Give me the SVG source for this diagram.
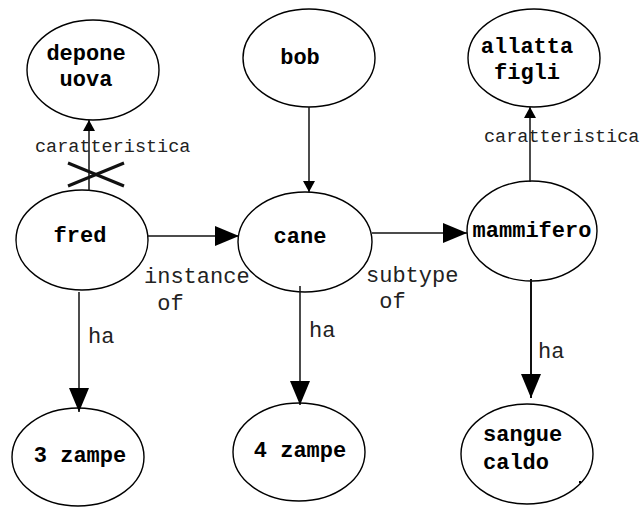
<svg xmlns="http://www.w3.org/2000/svg" width="641" height="507" viewBox="0 0 641 507">
<style>
.node ellipse{fill:#fff;stroke:#000;stroke-width:1.4}
.nl{font-family:"Liberation Mono","Courier New",monospace;font-weight:bold;font-size:22px;fill:#000}
.el{font-family:"Liberation Mono","Courier New",monospace;font-size:22px;fill:#222}
.els{font-family:"Liberation Mono","Courier New",monospace;font-size:18.5px;fill:#222}
.c line{stroke:#111;stroke-width:1.5}
</style>
<defs>
<marker id="sm" markerUnits="userSpaceOnUse" markerWidth="11" markerHeight="12" refX="11" refY="6" orient="auto"><path d="M0,0 L11,6 L0,12 z" fill="#000"/></marker>
<marker id="lg" markerUnits="userSpaceOnUse" markerWidth="24" markerHeight="20" refX="24" refY="10" orient="auto"><path d="M0,0 L24,10 L0,20 z" fill="#000"/></marker>
</defs>
<g id="depone"><g class="node"><ellipse cx="93" cy="70" rx="66" ry="50"/></g><text class="nl" x="86" y="60" text-anchor="middle">depone</text><text class="nl" x="86" y="86" text-anchor="middle">uova</text></g>
<g id="bob"><g class="node"><ellipse cx="309" cy="58" rx="66" ry="49"/></g><text class="nl" x="300" y="64" text-anchor="middle">bob</text></g>
<g id="allatta"><g class="node"><ellipse cx="534" cy="58" rx="66" ry="49"/></g><text class="nl" x="527" y="53" text-anchor="middle">allatta</text><text class="nl" x="527" y="79" text-anchor="middle">figli</text></g>
<g id="fred"><g class="node"><ellipse cx="82" cy="240" rx="66" ry="50"/></g><text class="nl" x="80" y="242" text-anchor="middle">fred</text></g>
<g id="cane"><g class="node"><ellipse cx="305" cy="242" rx="67" ry="50"/></g><text class="nl" x="300" y="243" text-anchor="middle">cane</text></g>
<g id="mammifero"><g class="node"><ellipse cx="532" cy="231" rx="65" ry="50"/></g><text class="nl" x="532" y="237" text-anchor="middle">mammifero</text></g>
<g id="zampe3"><g class="node"><ellipse cx="78" cy="457" rx="66" ry="49"/></g><text class="nl" x="80" y="462" text-anchor="middle">3 zampe</text></g>
<g id="zampe4"><g class="node"><ellipse cx="299" cy="452" rx="66" ry="49"/></g><text class="nl" x="300" y="457" text-anchor="middle">4 zampe</text></g>
<g id="sangue"><g class="node"><ellipse cx="527" cy="454" rx="66" ry="50"/></g><text class="nl" x="483" y="441">sangue</text><text class="nl" x="483" y="469">caldo</text><rect x="579" y="481" width="2" height="2" fill="#000"/></g>
<g id="connectors" class="c">
<line x1="89" y1="191" x2="89" y2="120" marker-end="url(#sm)"/>
<line x1="309" y1="107" x2="309" y2="192" marker-end="url(#sm)"/>
<line x1="530" y1="182" x2="530" y2="107" marker-end="url(#sm)"/>
<line x1="147" y1="236" x2="239" y2="236" marker-end="url(#lg)"/>
<line x1="372" y1="233" x2="467" y2="233" marker-end="url(#lg)"/>
<line x1="79" y1="292" x2="79" y2="412" marker-end="url(#lg)"/>
<line x1="300" y1="286" x2="300" y2="405" marker-end="url(#lg)"/>
<line x1="531" y1="279" x2="531" y2="398" marker-end="url(#lg)" style="stroke-width:2"/>
<line x1="68" y1="163" x2="124" y2="186" style="stroke-width:3"/>
<line x1="68" y1="186" x2="124" y2="163" style="stroke-width:3"/>
<text class="els" x="35" y="152">caratteristica</text>
<text class="els" x="484" y="142">caratteristica</text>
<text class="el" x="144" y="283">instance</text>
<text class="el" x="144" y="310" xml:space="preserve"> of</text>
<text class="el" x="366" y="282">subtype</text>
<text class="el" x="366" y="308" xml:space="preserve"> of</text>
<text class="el" x="88" y="343">ha</text>
<text class="el" x="309" y="337">ha</text>
<text class="el" x="538" y="358">ha</text>
</g>
</svg>
